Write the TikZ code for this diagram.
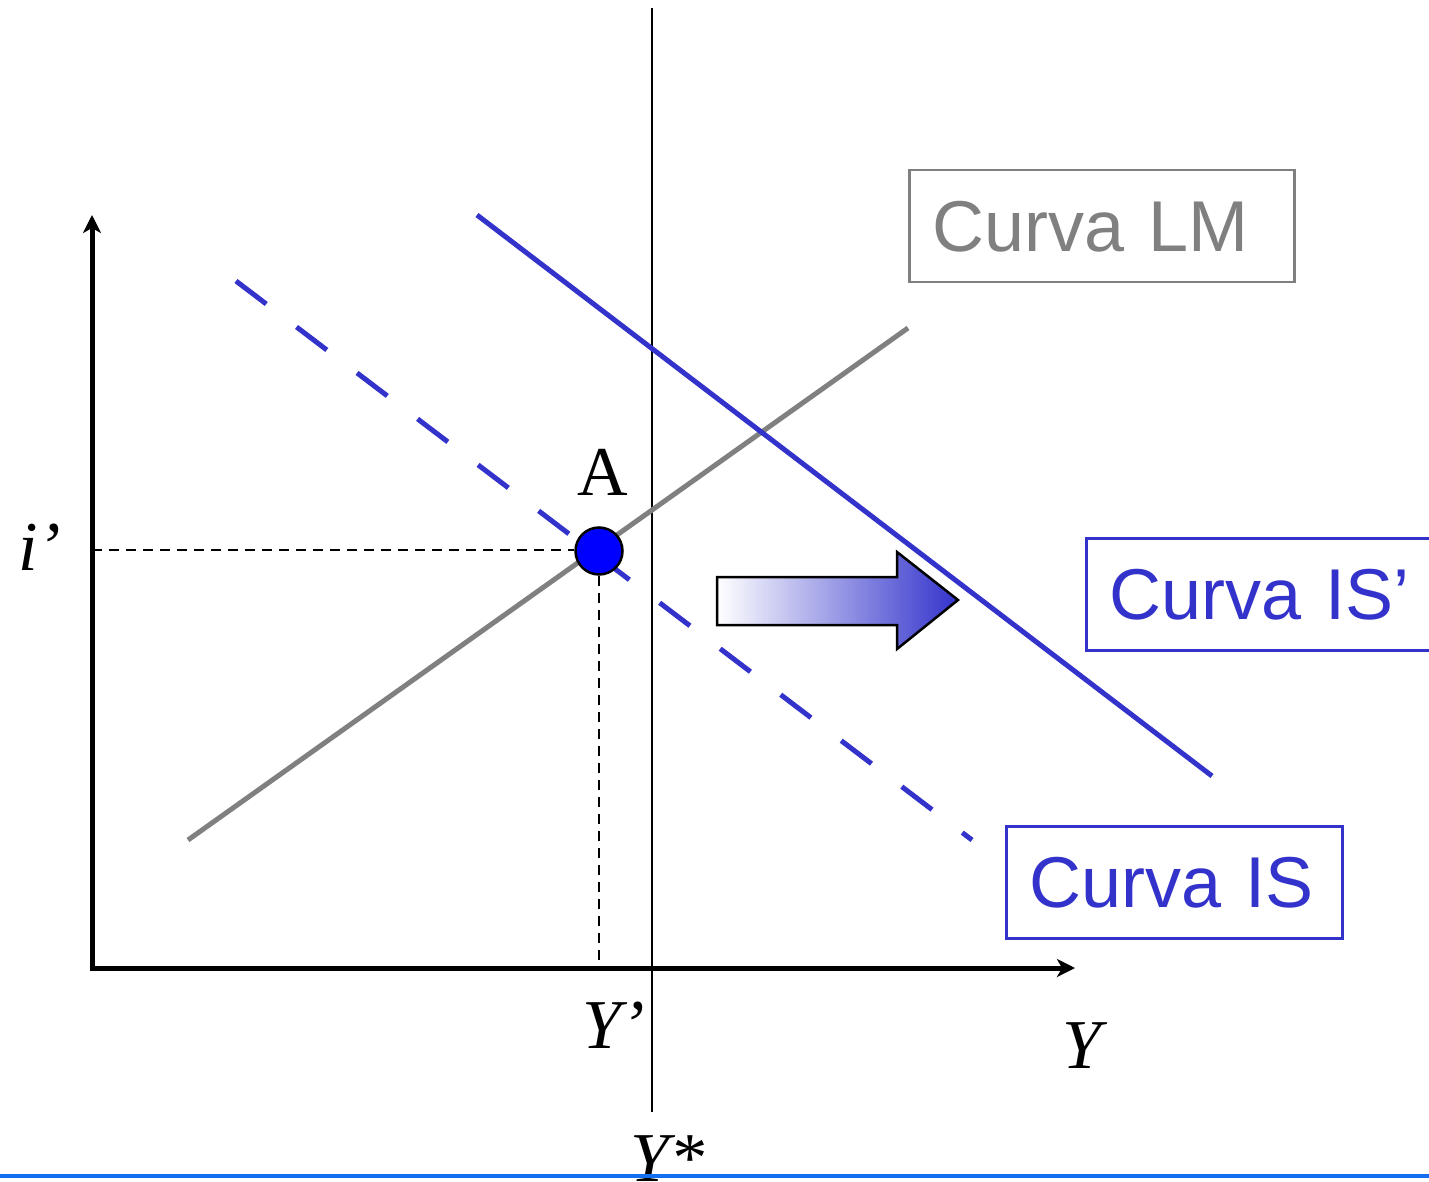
\documentclass[tikz,border=0pt]{standalone}
\usepackage{fontspec}
\setmainfont{Liberation Serif}
\newfontfamily\arialf{Liberation Sans}
\usetikzlibrary{arrows.meta}
\definecolor{isblue}{RGB}{51,51,204}
\definecolor{lmgray}{RGB}{128,128,128}
\definecolor{ptblue}{RGB}{0,0,255}
\definecolor{rulblue}{RGB}{20,110,240}
\tikzset{
  axisline/.style={line width=5pt,-{Stealth[length=18pt,width=18pt,inset=5pt]}},
  guide/.style={line width=2pt,dash pattern=on 10pt off 7pt},
  curvebox/.style={draw,line width=2.5pt,rectangle,anchor=north west,align=left,inner xsep=23pt,inner ysep=0pt,font=\arialf\fontsize{72}{80}\selectfont},
  itlabel/.style={font=\itshape\fontsize{70}{80}\selectfont,inner sep=0pt},
}
\begin{document}
\begin{tikzpicture}[x=1pt,y=-1pt]
\useasboundingbox (0,0) rectangle (1429,1182);
\clip (0,0) rectangle (1429,1182);
% coordinates
\coordinate (O) at (92,968);
\coordinate (ytop) at (92,215);
\coordinate (xend) at (1075,968);
\coordinate (ystar1) at (652,8);
\coordinate (ystar2) at (652,1112);
\coordinate (lm1) at (188,840);
\coordinate (lm2) at (908,328);
\coordinate (isp1) at (477,215);
\coordinate (isp2) at (1212,776);
\coordinate (is1) at (236,281);
\coordinate (is2) at (972,840);
\coordinate (iax) at (92,550);
\coordinate (yax) at (599,968);
% vertical Y* line
\draw[line width=2.5pt] (ystar1) -- (ystar2);
% curves
\draw[lmgray,line width=5pt] (lm1) -- (lm2);
\draw[isblue,line width=5pt] (isp1) -- (isp2);
\draw[isblue,line width=5pt,dash pattern=on 38pt off 38pt] (is1) -- (is2);
% point A
\node[circle,draw,line width=2.5pt,fill=ptblue,minimum size=47pt,inner sep=0pt] (A) at (599,551) {};
\draw[guide] (iax) -- (iax -| A.west);
\draw[guide] (A.south) -- (yax);
% axes
\draw[axisline] ([yshift=2.5pt]O) -- (ytop);
\draw[axisline] ([xshift=-2.5pt]O) -- (xend);
% labels
\node[font=\fontsize{70}{80}\selectfont,inner sep=0pt,anchor=base] (Alab) at (603,495) {A};
\node[itlabel,anchor=base west] (ilab) at (18,570) {i’};
\node[itlabel,anchor=base west] (yplab) at (582,1048) {Y’};
\node[itlabel,anchor=base west] (ylab) at (1062,1068) {Y};
\node[itlabel,anchor=base west] (yslab) at (630,1181) {Y*};
% boxes
\node[curvebox,draw=lmgray,text=lmgray,minimum width=385pt,minimum height=112pt,text width=339pt] (boxlm) at (908,169) {Curva LM};
\node[curvebox,draw=isblue,text=isblue,minimum width=360pt,minimum height=112pt,text width=314pt] (boxisp) at (1085,537) {Curva IS’};
\node[curvebox,draw=isblue,text=isblue,minimum width=336pt,minimum height=112pt,text width=290pt] (boxis) at (1005,825) {Curva IS};
% shift arrow
\coordinate (ar1) at (717,577);
\coordinate (ar2) at (897,577);
\coordinate (ar3) at (897,552);
\coordinate (ar4) at (958,600);
\coordinate (ar5) at (897,649);
\coordinate (ar6) at (897,625);
\coordinate (ar7) at (717,625);
\shade[left color=white,right color=isblue,draw=black,line width=2.5pt,line join=miter]
  (ar1) -- (ar2) -- (ar3) -- (ar4) -- (ar5) -- (ar6) -- (ar7) -- cycle;
% bottom rule
\draw[rulblue,line width=4pt] (0,1176) -- (1429,1176);
\end{tikzpicture}
\end{document}
